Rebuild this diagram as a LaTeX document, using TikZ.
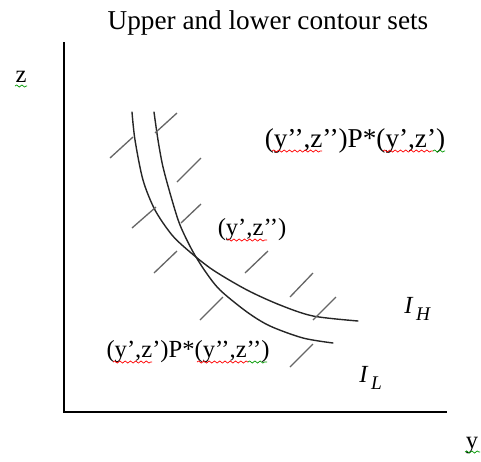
\documentclass[tikz,border=0pt]{standalone}
\usepackage{fontspec}
\setmainfont{Liberation Serif}
\usepackage{tikz}
\usetikzlibrary{decorations.pathmorphing}
\tikzstyle{axis} = [line width=1.1pt, black]
\tikzstyle{indiff} = [line width=0.8pt, black!85, line cap=round]
\tikzstyle{hatch} = [line width=0.75pt, black!60]
\tikzstyle{label} = [inner sep=0pt, font=\fontsize{14}{16}\selectfont]
\tikzstyle{squiggle} = [line width=0.4pt, decorate, decoration={snake, segment length=3pt, amplitude=0.6pt}]

\begin{document}
\begin{tikzpicture}[x=0.02cm, y=-0.02cm]

    \useasboundingbox (0,0) rectangle (481,461);

    % axes
    \coordinate (ztop) at (64,42);
    \coordinate (origin) at (64,412);
    \coordinate (yend) at (447,412);
    \draw [axis] (ztop) -- (origin) -- (yend);

    \node (title) [label, font=\fontsize{15.5}{18}\selectfont, anchor=base] at (268,29) {Upper and lower contour sets};
    \node (zlab) [label, anchor=base] at (21,82) {z};
    \node (ylab) [label, anchor=base] at (472,448) {y};

    % indifference curves
    \draw [indiff] plot[smooth] coordinates {(132,112) (135,140) (143,180) (155,210) (172,235) (190,252) (213,270) (247,290) (280,305) (313,316) (358,321)};
    \draw [indiff] plot[smooth] coordinates {(154,112) (158,140) (163,167) (172,200) (180,225) (192,250) (205,271) (220,290) (247,312) (270,326) (303,338) (333,343)};

    % hatching
    \draw [hatch] (110,158) -- (133,137);
    \draw [hatch] (155,133) -- (177,113);
    \draw [hatch] (177,182) -- (201,158);
    \draw [hatch] (132,228) -- (156,207);
    \draw [hatch] (181,223) -- (201,204);
    \draw [hatch] (154,273) -- (177,251);
    \draw [hatch] (245,273) -- (268,251);
    \draw [hatch] (290,297) -- (313,273);
    \draw [hatch] (313,320) -- (336,297);
    \draw [hatch] (200,320) -- (223,297);
    \draw [hatch] (290,367) -- (313,344);

    % labels
    \node (upper) [label, font=\fontsize{15.5}{17}\selectfont, anchor=base] at (355,147) {(y’’,z’’)P*(y’,z’)};
    \node (point) [label, anchor=base] at (252,235) {(y’,z’’)};
    \node (lower) [label, anchor=base] at (188,357) {(y’,z’)P*(y’’,z’’)};
    \node (ih) [label, anchor=base west] at (404,313) {\itshape I\hspace{2pt}\raisebox{-4pt}{\fontsize{11}{12}\selectfont H}};
    \node (il) [label, anchor=base west] at (359,382) {\itshape I\hspace{2pt}\raisebox{-4pt}{\fontsize{11}{12}\selectfont L}};

    % spell-check marks
    \draw [squiggle, red] (272,151) -- (322,151);
    \draw [squiggle, red] (383,151) -- (433,151);
    \draw [squiggle, green!60!black] (433,151) -- (445,151);
    \draw [squiggle, red] (227,240) -- (267,240);
    \draw [squiggle, red] (113,362) -- (152,362);
    \draw [squiggle, red] (197,362) -- (248,362);
    \draw [squiggle, green!60!black] (248,362) -- (267,362);
    \draw [squiggle, green!60!black] (15,86) -- (27,86);
    \draw [squiggle, green!60!black] (465,452) -- (480,452);

\end{tikzpicture}
\end{document}
